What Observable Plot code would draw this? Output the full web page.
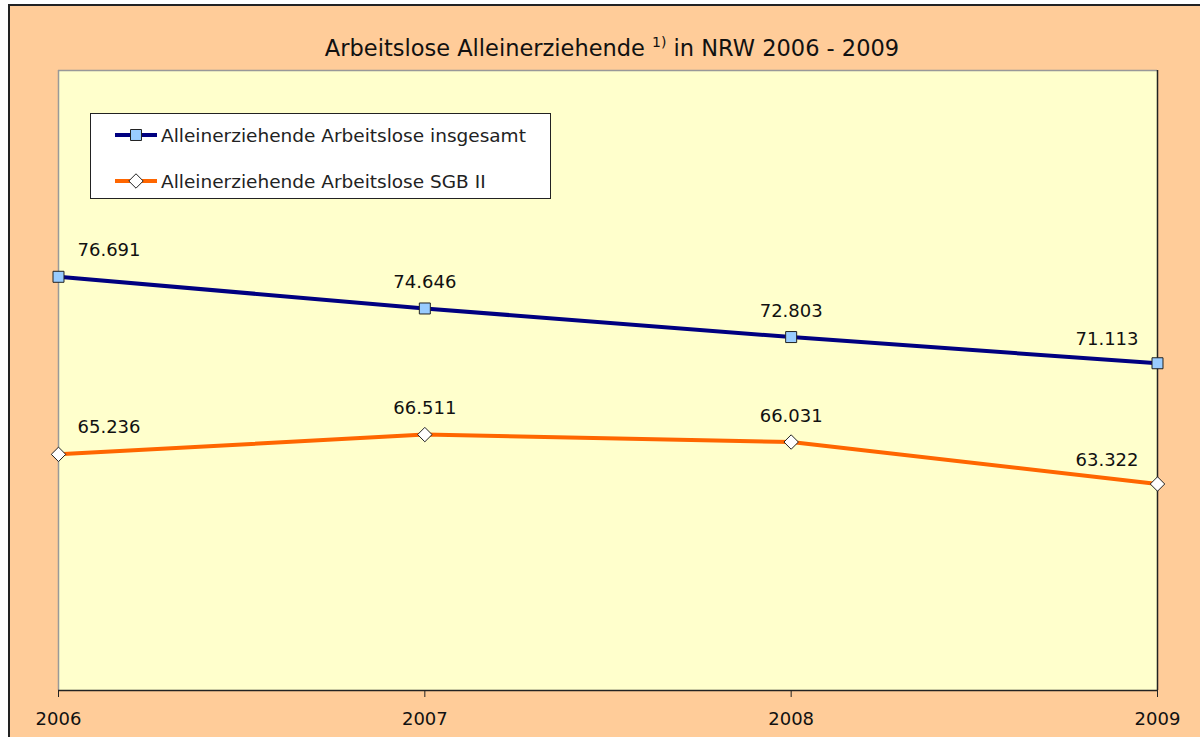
<!DOCTYPE html>
<html>
<head>
<meta charset="utf-8">
<script src="https://cdn.jsdelivr.net/npm/d3@7"></script>
<script src="https://cdn.jsdelivr.net/npm/@observablehq/plot@0.6"></script>
<style>
  html, body { margin: 0; padding: 0; background: #fff; }
  body { width: 1200px; height: 737px; overflow: hidden; position: relative; font-family: "DejaVu Sans", sans-serif; }
  #frame { position: absolute; left: 8px; top: 4px; width: 1200px; height: 760px; border-left: 2px solid #222; border-top: 2px solid #222; background: #FFCC99; }
  #title { position: absolute; left: 0; top: 0; width: 1204px; height: 50px; text-align: center; font-size: 22.5px; line-height: 22px; padding-top: 31px; box-sizing: border-box; color: #111; }
  #title sup { font-size: 14px; vertical-align: 0; position: relative; top: -9px; }
  #chart { position: absolute; left: 0; top: 44px; }
  #legend { position: absolute; left: 80px; top: 107px; width: 459px; height: 84px; background: #fff; border: 1px solid #222; font-size: 18.5px; color: #222; }
  .row { position: absolute; left: 0; height: 24px; display: flex; align-items: center; }
  .row svg { margin-left: 24px; margin-right: 4px; }
</style>
</head>
<body>
<div id="frame">
  <div id="title">Arbeitslose Alleinerziehende <sup>1)</sup> in NRW 2006 - 2009</div>
  <div id="chart"></div>
  <div id="legend"></div>
</div>
<script>
const years = [2006, 2007, 2008, 2009];
const insgesamt = [76691, 74646, 72803, 71113];
const sgb2 = [65236, 66511, 66031, 63322];
const seriesNames = ["Alleinerziehende Arbeitslose insgesamt", "Alleinerziehende Arbeitslose SGB II"];
const seriesColors = ["#000080", "#FF6600"];
const markerFills = ["#99CCFF", "#FFFFFF"];
const markerSymbols = ["square", "diamond2"];
const yDomain = [50000, 90000];

const fmt = d3.formatLocale({decimal: ",", thousands: ".", grouping: [3], currency: ["", " €"]}).format(",");

const rows = [];
[insgesamt, sgb2].forEach((vals, s) => {
  vals.forEach((v, i) => rows.push({year: years[i], value: v, series: seriesNames[s], idx: i}));
});

const W = 1190, H = 687;
const labelFont = {fontSize: 18, fill: "#111", fontFamily: "DejaVu Sans, sans-serif"};

const marks = [
  Plot.frame({fill: "#FFFFCC", stroke: null}),
  Plot.ruleX([years[0]], {stroke: "#999", strokeWidth: 1.5}),
  Plot.ruleY([yDomain[1]], {stroke: "#999", strokeWidth: 1.5}),
  Plot.ruleX([years[years.length - 1]], {stroke: "#222", strokeWidth: 1.5}),
  Plot.ruleY([yDomain[0]], {stroke: "#222", strokeWidth: 1.5}),
  Plot.axisX({ticks: years, tickFormat: d => String(d), tickSize: 7, tickPadding: 15, fontSize: 18, stroke: "#222", color: "#111", label: null}),
  Plot.line(rows, {x: "year", y: "value", z: "series", stroke: "series", strokeWidth: 4}),
];
seriesNames.forEach((name, s) => {
  marks.push(Plot.dot(rows.filter(d => d.series === name), {x: "year", y: "value", symbol: () => markerSymbols[s], r: s === 0 ? 6.2 : 6.5, fill: markerFills[s], stroke: "#222", strokeWidth: 1}));
});
marks.push(
  Plot.text(rows.filter(d => d.idx === 0), {x: "year", y: "value", text: d => fmt(d.value), textAnchor: "start", dx: 19, dy: -27, ...labelFont}),
  Plot.text(rows.filter(d => d.idx > 0 && d.idx < years.length - 1), {x: "year", y: "value", text: d => fmt(d.value), textAnchor: "middle", dy: -26, ...labelFont}),
  Plot.text(rows.filter(d => d.idx === years.length - 1), {x: "year", y: "value", text: d => fmt(d.value), textAnchor: "end", dx: -19, dy: -24, ...labelFont})
);

const chart = Plot.plot({
  width: W, height: H,
  marginLeft: 48, marginRight: 43, marginTop: 20, marginBottom: 47,
  style: {background: "transparent", fontFamily: "DejaVu Sans, sans-serif"},
  x: {type: "linear", domain: [years[0], years[years.length - 1]], axis: null, label: null},
  y: {domain: yDomain, axis: null},
  color: {domain: seriesNames, range: seriesColors},
  marks
});
document.getElementById("chart").appendChild(chart);

// legend
const legend = document.getElementById("legend");
const rowTops = [9, 55];
seriesNames.forEach((name, s) => {
  const row = document.createElement("div");
  row.className = "row";
  row.style.top = rowTops[s] + "px";
  const sw = d3.create("svg").attr("width", 42).attr("height", 20);
  sw.append("line").attr("x1", 0).attr("x2", 42).attr("y1", 10).attr("y2", 10).attr("stroke", seriesColors[s]).attr("stroke-width", 4);
  const sym = d3.symbol(s === 0 ? d3.symbolSquare : d3.symbolDiamond2, Math.PI * (s === 0 ? 6.2 : 6.5) ** 2);
  sw.append("path").attr("d", sym()).attr("transform", "translate(21,10)").attr("fill", markerFills[s]).attr("stroke", "#222");
  row.appendChild(sw.node());
  const t = document.createElement("span");
  t.textContent = name;
  row.appendChild(t);
  legend.appendChild(row);
});
</script>
</body>
</html>
